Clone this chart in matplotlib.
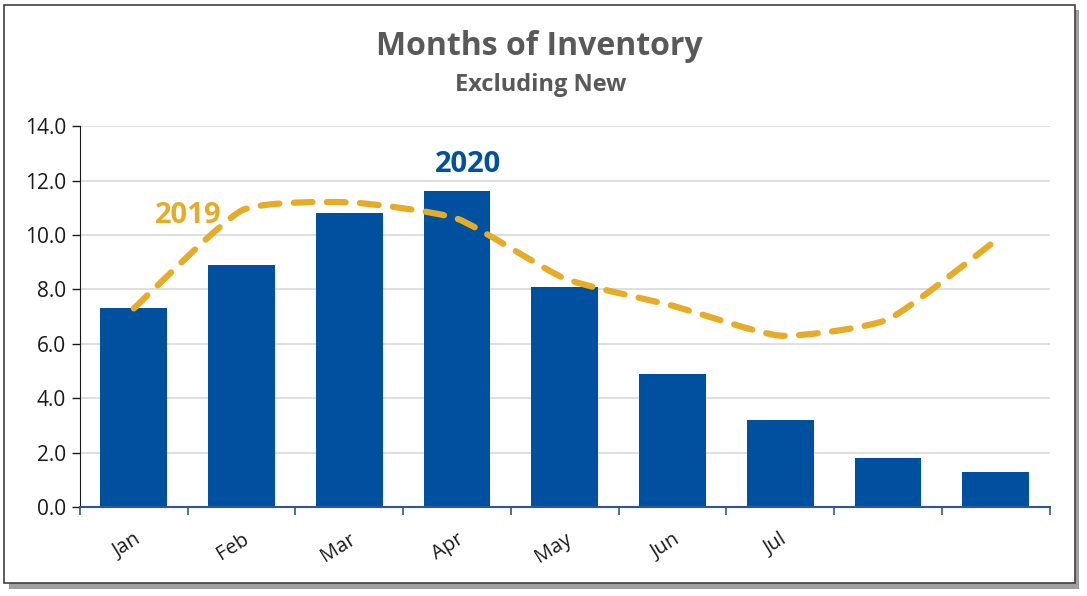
import matplotlib.pyplot as plt
import numpy as np
from matplotlib.patches import Rectangle, PathPatch
from matplotlib.path import Path

months = ['Jan', 'Feb', 'Mar', 'Apr', 'May', 'Jun', 'Jul', '', '']
inv_2020 = [7.3, 8.9, 10.8, 11.6, 8.1, 4.9, 3.2, 1.8, 1.3]
inv_2019 = [7.3, 10.9, 11.2, 10.6, 8.4, 7.4, 6.3, 6.9, 9.8]
y_ticks = [0, 2, 4, 6, 8, 10, 12, 14]

BLUE = '#0050A0'
GOLD = '#E6AC28'
GRAY = '#595959'

plt.rcParams['font.family'] = ['Open Sans', 'DejaVu Sans']


def smooth_path(xs, ys, t=0.09):
    # bezier through the points, like a smoothed line
    pts = np.column_stack([xs, ys]).astype(float)
    verts = [pts[0]]
    codes = [Path.MOVETO]
    n = len(pts)
    for i in range(n - 1):
        p0 = pts[max(i - 1, 0)]
        p1 = pts[i]
        p2 = pts[i + 1]
        p3 = pts[min(i + 2, n - 1)]
        c1 = p1 + (p2 - p0) * t
        c2 = p2 - (p3 - p1) * t
        verts += [c1, c2, p2]
        codes += [Path.CURVE4] * 3
    return Path(verts, codes)


fig = plt.figure(figsize=(10.87, 5.96), dpi=100)

# frame with shadow
fig.add_artist(Rectangle((0.008, 0.012), 0.985, 0.972, transform=fig.transFigure,
                         facecolor='#a0a0a0', edgecolor='none', zorder=-2))
fig.add_artist(Rectangle((0.004, 0.022), 0.985, 0.970, transform=fig.transFigure,
                         facecolor='white', edgecolor='#404040', linewidth=1.2, zorder=-1))

ax = fig.add_axes([0.0736, 0.1493, 0.892, 0.639])
x = np.arange(len(months))

ax.bar(x, inv_2020, width=0.62, color=BLUE, zorder=2)
ax.add_patch(PathPatch(smooth_path(x, inv_2019), facecolor='none', edgecolor=GOLD,
                       linewidth=4.5, linestyle=(0, (3, 2.3)), capstyle='round',
                       zorder=3))

ax.set_xlim(-0.5, len(months) - 0.5)
ax.set_ylim(0, 14)
ax.set_yticks(y_ticks)
ax.set_yticklabels([f'{v:.1f}' for v in y_ticks], fontsize=15, color='#1a1a1a')
ax.yaxis.grid(True, color='#d9d9d9', linewidth=1.2, zorder=0)
ax.set_axisbelow(True)

ax.set_xticks(x)
ax.set_xticklabels(months, rotation=32, fontsize=14.5, color='#1a1a1a',
                   ha='right', rotation_mode='anchor')
ax.tick_params(axis='x', length=0, pad=16)
ax.set_xticks(np.arange(-0.5, len(months)), minor=True)
ax.tick_params(axis='x', which='minor', length=6, color='#2F5597', width=1.2)
ax.tick_params(axis='y', length=6, color='#1a1a1a', width=1, pad=4)

for s in ['top', 'right']:
    ax.spines[s].set_visible(False)
ax.spines['left'].set_color('#1a1a1a')
ax.spines['bottom'].set_color('#2F5597')
ax.spines['bottom'].set_linewidth(1.5)

ax.text(3.1, 12.05, '2020', color=BLUE, fontsize=21, fontweight='bold', ha='center',
        va='bottom')
ax.text(0.5, 10.2, '2019', color=GOLD, fontsize=21, fontweight='bold', ha='center',
        va='bottom')

fig.text(0.496, 0.922, 'Months of Inventory', color=GRAY, fontsize=23,
         fontweight='bold', ha='center', va='center')
fig.text(0.497, 0.858, 'Excluding New', color=GRAY, fontsize=17,
         fontweight='bold', ha='center', va='center')

fig.savefig('out.png', dpi=100)
